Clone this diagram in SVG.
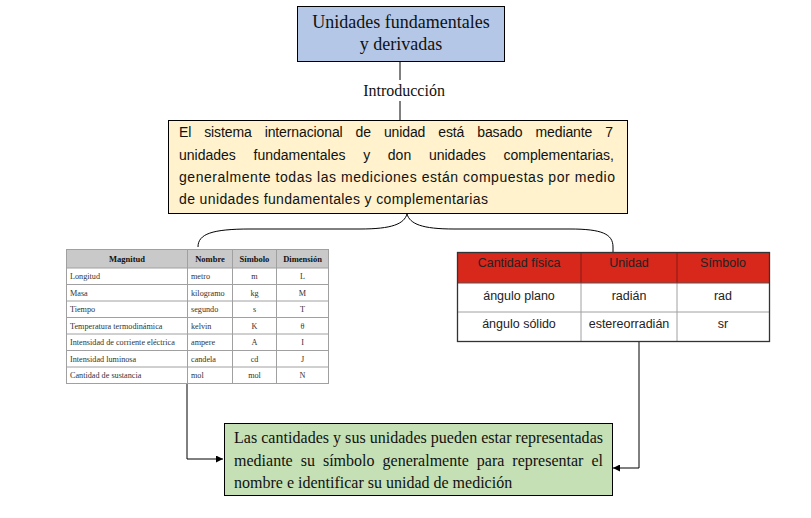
<svg xmlns="http://www.w3.org/2000/svg" width="811" height="518" viewBox="0 0 811 518">
<defs>
<marker id="arr" viewBox="0 0 10 10" refX="10" refY="5" markerWidth="7" markerHeight="7" markerUnits="userSpaceOnUse" orient="auto">
<path d="M0,0 L10,5 L0,10 z" fill="#000"/>
</marker>
<style>
.serif{font-family:"Liberation Serif","Times New Roman",serif;fill:#111}
.sans{font-family:"Liberation Sans",Arial,sans-serif;fill:#111}
.ln{stroke:#000;stroke-width:1;fill:none}
.tg{stroke:#a0a0a0;stroke-width:1;fill:none}
.th{font-family:"Liberation Serif",serif;font-size:8.5px;font-weight:bold;fill:#111;text-anchor:middle}
.td{font-family:"Liberation Serif",serif;font-size:8.2px;fill:#333}
.rt{font-family:"Liberation Sans",Arial,sans-serif;font-size:12.5px;fill:#222;text-anchor:middle}
</style>
</defs>
<rect width="811" height="518" fill="#fff"/>

<g id="connectors">
<line class="ln" x1="400" y1="62" x2="400" y2="80"/>
<line class="ln" x1="400" y1="101" x2="400" y2="120"/>
<path class="ln" d="M198,247 C198,234 212,229 250,229 L360,229 C392,229 404,224 407,214 C410,224 422,229 454,229 L570,229 C602,229 613,234 613,247"/>
<line class="ln" x1="613" y1="247" x2="613" y2="252"/>
<path class="ln" d="M187,383 L187,459 L223,459" marker-end="url(#arr)"/>
<path class="ln" d="M639,342 L639,468 L613,468" marker-end="url(#arr)"/>
</g>

<g id="title">
<rect x="297.5" y="6.5" width="207" height="55" fill="#b4c7e7" stroke="#000" stroke-width="1"/>
<text class="serif" x="401" y="28" font-size="18" text-anchor="middle">Unidades fundamentales</text>
<text class="serif" x="401" y="50" font-size="18" text-anchor="middle">y derivadas</text>
</g>

<g id="label-introduccion">
<text class="serif" x="404" y="96" font-size="16" text-anchor="middle">Introducción</text>
</g>

<g id="intro">
<rect x="168.5" y="120.5" width="459" height="93" fill="#fff2cc" stroke="#000" stroke-width="1"/>
<text class="sans" font-size="14" x="179" y="137" word-spacing="9.2" textLength="434" lengthAdjust="spacing">El sistema internacional de unidad está basado mediante 7</text>
<text class="sans" font-size="14" x="179" y="160" word-spacing="13.8" textLength="435" lengthAdjust="spacing">unidades fundamentales y don unidades complementarias,</text>
<text class="sans" font-size="14" x="179" y="182" textLength="436" lengthAdjust="spacing">generalmente todas las mediciones están compuestas por medio</text>
<text class="sans" font-size="14" x="179" y="204" textLength="309" lengthAdjust="spacing">de unidades fundamentales y complementarias</text>
</g>

<g id="tabla-fundamentales">
<rect x="66.5" y="249.5" width="262" height="134" fill="#fff"/>
<rect x="66.5" y="249.5" width="262" height="18.5" fill="#c9c9c9"/>
<rect class="tg" x="66.5" y="249.5" width="262" height="134"/>
<line class="tg" x1="66.5" y1="268" x2="328.5" y2="268"/>
<line class="tg" x1="66.5" y1="284.5" x2="328.5" y2="284.5"/>
<line class="tg" x1="66.5" y1="301" x2="328.5" y2="301"/>
<line class="tg" x1="66.5" y1="317.5" x2="328.5" y2="317.5"/>
<line class="tg" x1="66.5" y1="334" x2="328.5" y2="334"/>
<line class="tg" x1="66.5" y1="350.5" x2="328.5" y2="350.5"/>
<line class="tg" x1="66.5" y1="367" x2="328.5" y2="367"/>
<line class="tg" x1="187.5" y1="249.5" x2="187.5" y2="383.5"/>
<line class="tg" x1="232.5" y1="249.5" x2="232.5" y2="383.5"/>
<line class="tg" x1="276.5" y1="249.5" x2="276.5" y2="383.5"/>
<text class="th" x="127" y="261.5">Magnitud</text>
<text class="th" x="210" y="261.5">Nombre</text>
<text class="th" x="254.5" y="261.5">Símbolo</text>
<text class="th" x="302.5" y="261.5">Dimensión</text>
<g class="td">
<text x="70" y="279">Longitud</text>
<text x="70" y="295.5">Masa</text>
<text x="70" y="312">Tiempo</text>
<text x="70" y="328.5">Temperatura termodinámica</text>
<text x="70" y="345">Intensidad de corriente eléctrica</text>
<text x="70" y="361.5">Intensidad luminosa</text>
<text x="70" y="378">Cantidad de sustancia</text>
<text x="191" y="279">metro</text>
<text x="191" y="295.5">kilogramo</text>
<text x="191" y="312">segundo</text>
<text x="191" y="328.5">kelvin</text>
<text x="191" y="345">ampere</text>
<text x="191" y="361.5">candela</text>
<text x="191" y="378">mol</text>
</g>
<g class="td" text-anchor="middle">
<text x="254.5" y="279">m</text>
<text x="254.5" y="295.5">kg</text>
<text x="254.5" y="312">s</text>
<text x="254.5" y="328.5">K</text>
<text x="254.5" y="345">A</text>
<text x="254.5" y="361.5">cd</text>
<text x="254.5" y="378">mol</text>
<text x="302.5" y="279">L</text>
<text x="302.5" y="295.5">M</text>
<text x="302.5" y="312">T</text>
<text x="302.5" y="328.5">θ</text>
<text x="302.5" y="345">I</text>
<text x="302.5" y="361.5">J</text>
<text x="302.5" y="378">N</text>
</g>
</g>

<g id="tabla-complementarias">
<rect x="457.5" y="252.5" width="312" height="89" fill="#fff"/>
<rect x="457.5" y="252.5" width="312" height="30.5" fill="#d8271b"/>
<line class="tg" x1="457.5" y1="312" x2="769.5" y2="312"/>
<line class="tg" x1="581" y1="283" x2="581" y2="341.5"/>
<line class="tg" x1="677" y1="283" x2="677" y2="341.5"/>
<line x1="581" y1="252.5" x2="581" y2="283" stroke="#8a1a12" stroke-width="1"/>
<line x1="677" y1="252.5" x2="677" y2="283" stroke="#8a1a12" stroke-width="1"/>
<line x1="457.5" y1="283" x2="769.5" y2="283" stroke="#555" stroke-width="1"/>
<rect x="457.5" y="252.5" width="312" height="89" fill="none" stroke="#333" stroke-width="1.3"/>
<text class="rt" x="519" y="267" fill="#3a1410">Cantidad física</text>
<text class="rt" x="629" y="267" fill="#3a1410">Unidad</text>
<text class="rt" x="723" y="267" fill="#3a1410">Símbolo</text>
<text class="rt" x="519" y="300">ángulo plano</text>
<text class="rt" x="629" y="300">radián</text>
<text class="rt" x="723" y="300">rad</text>
<text class="rt" x="519" y="328">ángulo sólido</text>
<text class="rt" x="629" y="328">estereorradián</text>
<text class="rt" x="723" y="328">sr</text>
</g>

<g id="conclusion">
<rect x="224.5" y="423.5" width="388" height="72" fill="#c5e0b4" stroke="#000" stroke-width="1"/>
<text class="serif" font-size="16" x="234" y="443" textLength="369" lengthAdjust="spacing">Las cantidades y sus unidades pueden estar representadas</text>
<text class="serif" font-size="16" x="234" y="466" word-spacing="4" textLength="369" lengthAdjust="spacing">mediante su símbolo generalmente para representar el</text>
<text class="serif" font-size="16" x="234" y="488">nombre e identificar su unidad de medición</text>
</g>
</svg>
